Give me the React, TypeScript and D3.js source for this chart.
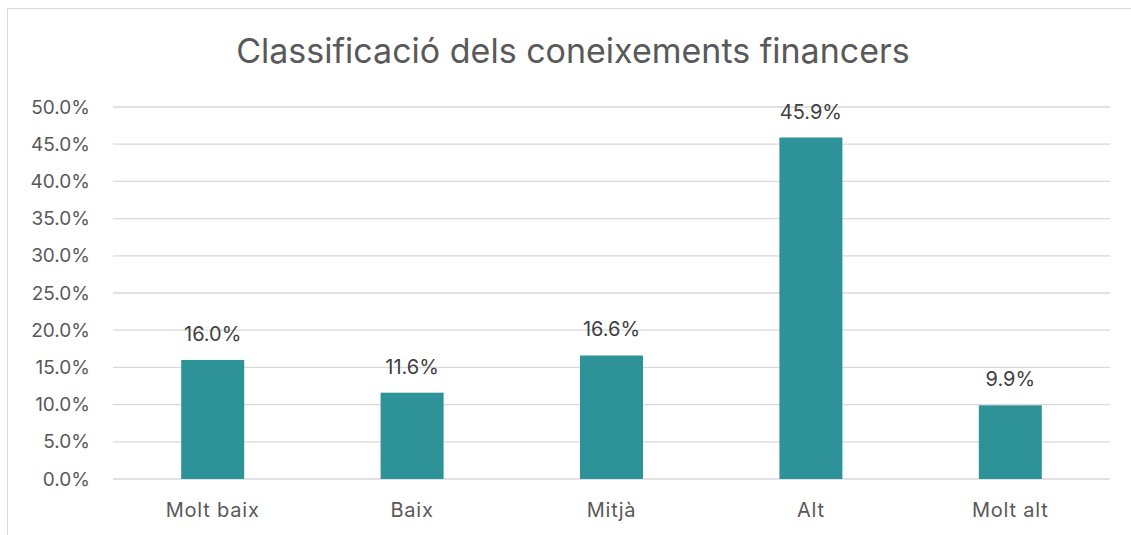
import { useEffect, useRef } from 'react';
import * as d3 from 'd3';

const categories = ['Molt baix', 'Baix', 'Mitjà', 'Alt', 'Molt alt'];
const values = [16.0, 11.6, 16.6, 45.9, 9.9];
const yTicks = [0, 5, 10, 15, 20, 25, 30, 35, 40, 45, 50];
const title = 'Classificació dels coneixements financers';

const [width, height] = [1131, 535];
const margin = { top: 107, right: 21, bottom: 56, left: 113 };
const font = 'Inter, "Open Sans", sans-serif';

function App() {
    const node = useRef<SVGSVGElement>(null);
    useEffect(() => {
        if (!node.current) return;
        const svg = d3.select(node.current);
        svg.selectAll('*').remove();

        const x = d3.scaleBand()
            .domain(categories)
            .range([margin.left, width - margin.right])
            .paddingInner(0.684)
            .paddingOuter(0.342);
        const y = d3.scaleLinear()
            .domain([0, 50])
            .range([height - margin.bottom, margin.top]);

        /** frame */
        svg.append('rect')
            .attr('x', 7.5).attr('y', 8.5)
            .attr('width', width + 10).attr('height', height + 10)
            .attr('fill', 'white').attr('stroke', '#d9d9d9');

        svg.append('text')
            .attr('x', 573).attr('y', 63)
            .attr('text-anchor', 'middle')
            .attr('font-family', font).attr('font-size', 34)
            .attr('fill', '#595959')
            .text(title);

        /** grid + y labels */
        const g = svg.append('g');
        g.selectAll('line.grid')
            .data(yTicks)
            .enter().append('line')
            .attr('class', 'grid')
            .attr('x1', margin.left).attr('x2', width - margin.right)
            .attr('y1', d => y(d)).attr('y2', d => y(d))
            .attr('stroke', '#d9d9d9').attr('stroke-width', 1.3);
        g.selectAll('text.tick')
            .data(yTicks)
            .enter().append('text')
            .attr('class', 'tick')
            .attr('x', 90).attr('y', d => y(d))
            .attr('dy', '0.35em')
            .attr('text-anchor', 'end')
            .attr('font-family', font).attr('font-size', 19)
            .attr('fill', '#595959')
            .text(d => d.toFixed(1) + '%');

        /** bars */
        const data = categories.map((c, i) => ({ cat: c, val: values[i] }));
        svg.selectAll('rect.bar')
            .data(data)
            .enter().append('rect')
            .attr('class', 'bar')
            .attr('x', d => x(d.cat)!)
            .attr('y', d => y(d.val))
            .attr('width', x.bandwidth())
            .attr('height', d => y(0) - y(d.val))
            .attr('fill', '#2e9399');

        svg.selectAll('text.val')
            .data(data)
            .enter().append('text')
            .attr('class', 'val')
            .attr('x', d => x(d.cat)! + x.bandwidth() / 2)
            .attr('y', d => y(d.val) - 19)
            .attr('text-anchor', 'middle')
            .attr('font-family', font).attr('font-size', 20)
            .attr('fill', '#404040')
            .text(d => d.val.toFixed(1) + '%');

        svg.selectAll('text.cat')
            .data(categories)
            .enter().append('text')
            .attr('class', 'cat')
            .attr('x', d => x(d)! + x.bandwidth() / 2)
            .attr('y', 517)
            .attr('text-anchor', 'middle')
            .attr('font-family', font).attr('font-size', 20)
            .attr('letter-spacing', 0.8)
            .attr('fill', '#595959')
            .text(d => d);
    }, [node]);

    return (
        <div style={{ position: 'absolute', left: 0, top: 0 }}>
            <svg ref={node} width={width} height={height} style={{ display: 'block' }}></svg>
        </div>
    );
}

export default App;
